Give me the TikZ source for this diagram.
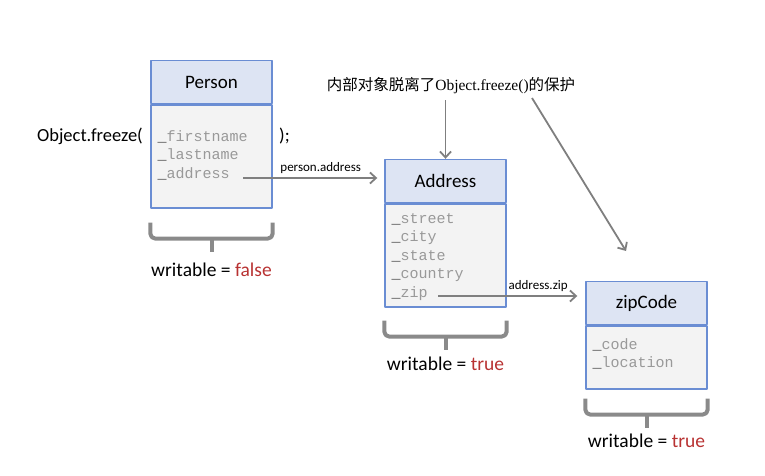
\documentclass[tikz,border=0pt]{standalone}
\usepackage{fontspec}
\usepackage{xcolor}
\setmainfont{Carlito}
\newfontfamily\codefont{Liberation Mono}
\newfontfamily\cjkfont{Noto Sans CJK SC}
\newfontfamily\notelatin{Liberation Serif}
\usetikzlibrary{positioning,arrows.meta}
\definecolor{headfill}{HTML}{DDE4F3}
\definecolor{bodyfill}{HTML}{F3F3F3}
\definecolor{frame}{HTML}{6A8DD3}
\definecolor{link}{HTML}{7F7F7F}
\definecolor{brace}{HTML}{8A8A8A}
\definecolor{field}{HTML}{999999}
\definecolor{flag}{HTML}{B83232}
\tikzset{
  ClassHead/.style={
    draw=frame, line width=1.4pt, fill=headfill,
    minimum width=121pt, minimum height=43pt, inner sep=0pt,
    font=\fontsize{19}{22}\selectfont
  },
  ClassBody/.style={
    draw=frame, line width=1.4pt, fill=bodyfill,
    minimum width=121pt, inner sep=0pt, anchor=north
  },
  Fields/.style={
    anchor=north west, inner sep=0pt, align=left, text=field,
    font=\codefont\fontsize{15}{18.5}\selectfont
  },
  Link/.style={
    draw=link, line width=1.8pt,
    -{Straight Barb[length=6pt,width=11pt,line width=1.8pt]}
  },
  LinkLabel/.style={font=\fontsize{13}{15}\selectfont, inner sep=1pt},
  Brace/.style={draw=brace, line width=4pt, rounded corners=5pt},
  Flag/.style={font=\fontsize{19.5}{22}\selectfont, inner sep=0pt}
}
% field line: dark underscore, grey name
\newcommand{\fld}[1]{{\color{black!75}\_}#1}
\newcommand{\WritableBrace}[4]{%
  % #1 = body node, #2 = gap below it, #3 = label offset, #4 = value of writable
  \draw[Brace] ([shift={(0,#2)}]#1.south west) -- ++(0,16)
    -- ([shift={(0,#2+16)}]#1.south east) -- ([shift={(0,#2)}]#1.south east);
  \draw[Brace] ([shift={(0,#2+16)}]#1.south) -- ++(0,13);
  \node[Flag] (#1Flag) at ([shift={(0,#2+#3)}]#1.south)
    {writable = \textcolor{flag}{#4}};
}

\begin{document}
\begin{tikzpicture}[x=1pt, y=-1pt, line join=round]
  \useasboundingbox (0,0) rectangle (765,476);

  % the three objects
  \node[ClassHead] (personHead) at (211.5,82) {Person};
  \node[ClassBody, minimum height=103pt] (personBody) at (personHead.south) {};
  \node[ClassHead] (addressHead) at (445.5,181) {Address};
  \node[ClassBody, minimum height=103pt] (addressBody) at (addressHead.south) {};
  \node[ClassHead] (zipHead) at (646.5,303) {zipCode};
  \node[ClassBody, minimum height=63pt] (zipBody) at (zipHead.south) {};

  % fields
  \node[Fields] (personFields) at ([shift={(7,26)}]personBody.north west)
    {\fld{firstname}\\ \fld{lastname}\\ \fld{address}};
  \node[Fields] (addressFields) at ([shift={(7,10)}]addressBody.north west)
    {\fld{street}\\ \fld{city}\\ \fld{state}\\ \fld{country}\\ \fld{zip}};
  \node[Fields] (zipFields) at ([shift={(7,13)}]zipBody.north west)
    {\fld{code}\\ \fld{location}};

  % Object.freeze( ... );
  \node[anchor=east, inner sep=0pt, font=\fontsize{18.5}{22}\selectfont]
    (freezeOpen) at (143,136) {Object.freeze(};
  \node[anchor=west, inner sep=0pt, font=\fontsize{18.5}{22}\selectfont]
    (freezeClose) at (279,136) {);};

  % references between the objects
  \coordinate (addrOut) at (243,178);
  \coordinate (zipOut) at (438,296);
  \draw[Link, shorten >=7pt] (addrOut)
    -- node[LinkLabel, above=3pt, pos=0.55] {person.address} (addressHead.west |- addrOut);
  \draw[Link, shorten >=8pt] (zipOut)
    -- node[LinkLabel, above=3pt, pos=0.68] {address.zip} (zipHead.west |- zipOut);

  % note
  \node[font=\fontsize{15.5}{18}\selectfont\cjkfont, inner sep=0pt] (note) at (451,86)
    {内部对象脱离了{\notelatin Object.freeze()}的保护};
  \coordinate (noteFrom) at (532,98);
  \coordinate (noteTip) at (626,251);
  \draw[Link] ([yshift=-6pt]note.south -| addressHead.north) -- (addressHead.north);
  \draw[Link] (noteFrom) -- (noteTip);

  % writable braces
  \WritableBrace{personBody}{14}{47}{false}
  \WritableBrace{addressBody}{13}{43}{true}
  \WritableBrace{zipBody}{9}{42}{true}
\end{tikzpicture}
\end{document}
